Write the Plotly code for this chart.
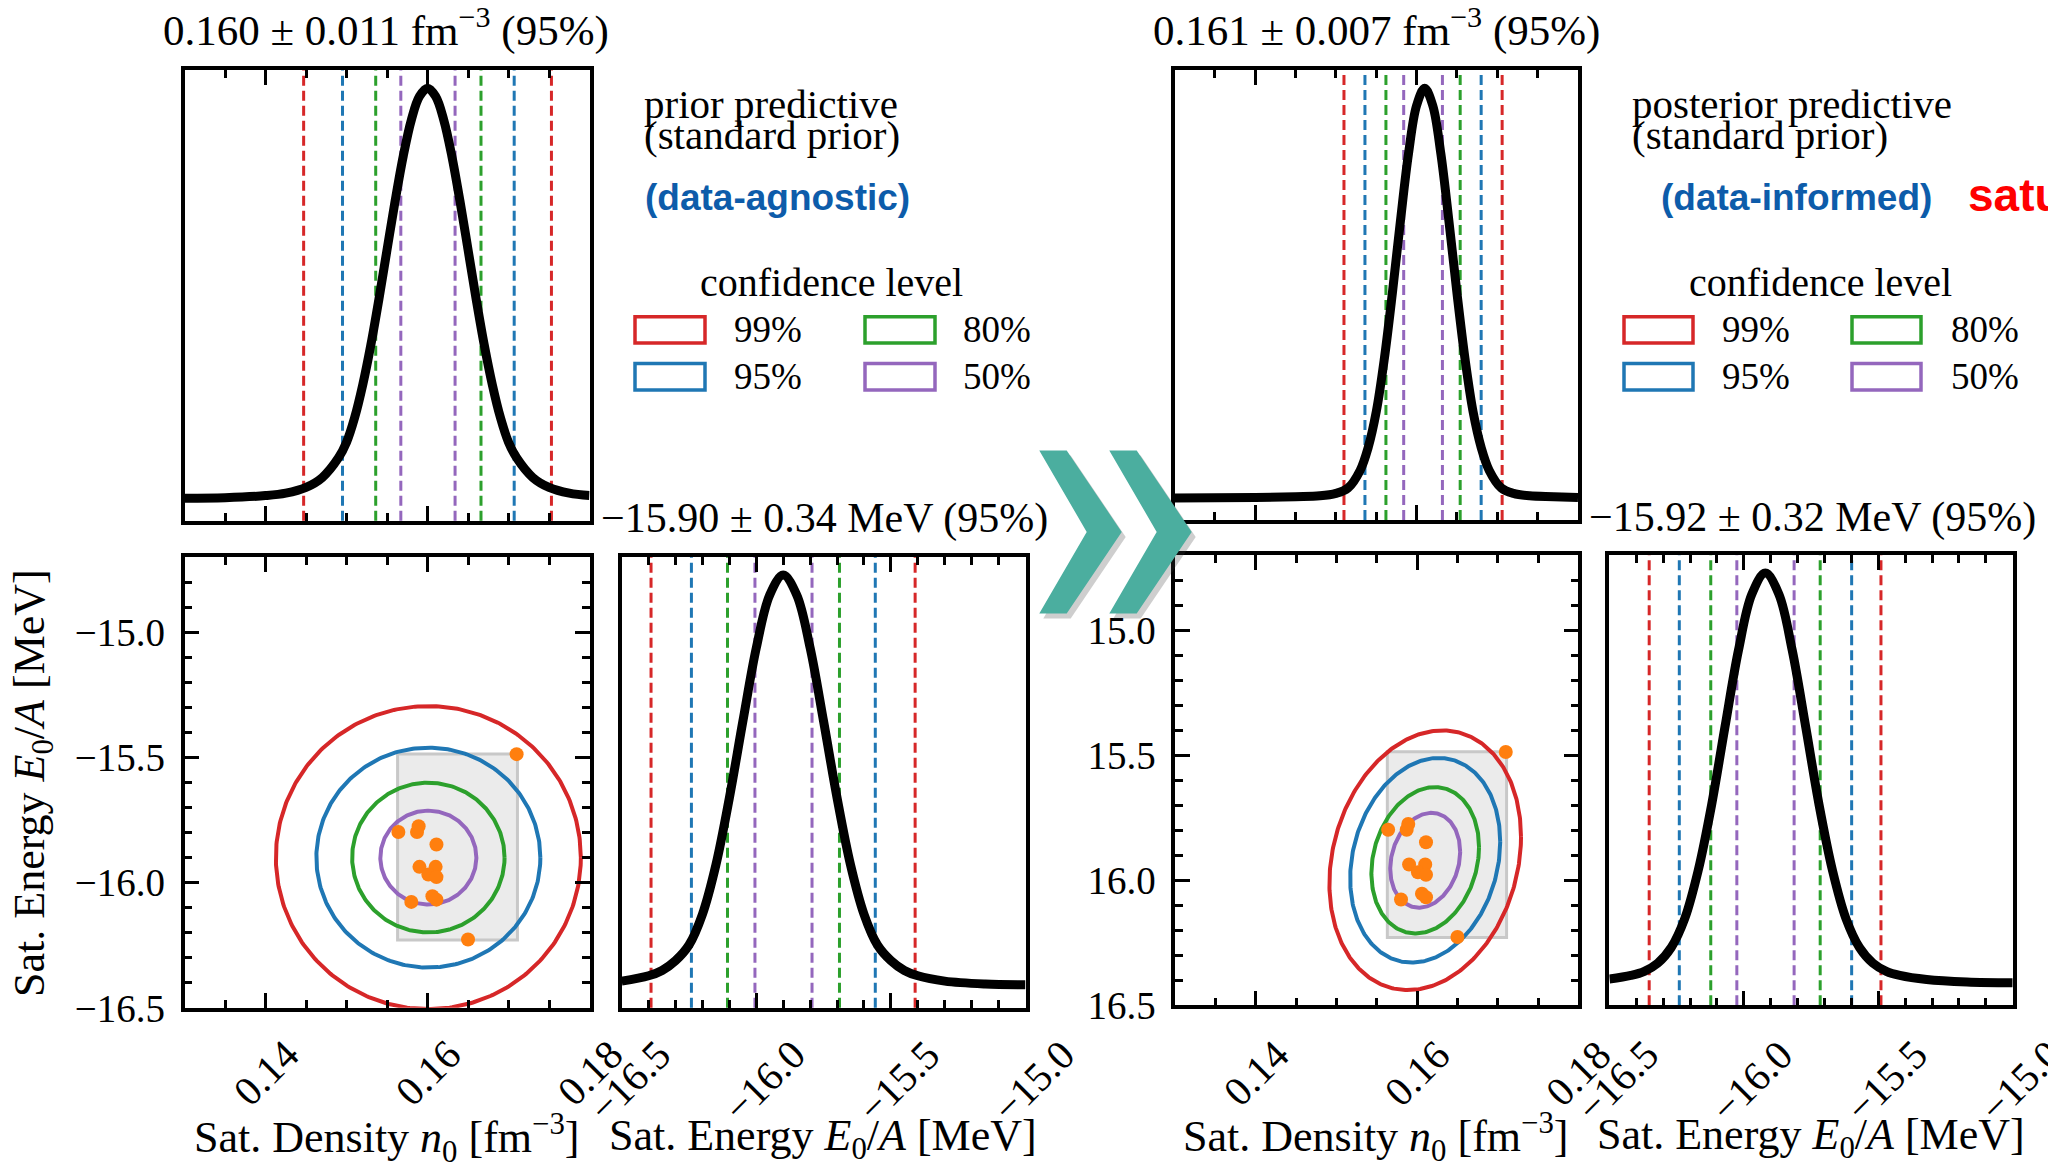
import numpy as np
import plotly.graph_objects as go

# ---------------- data ----------------
levels = ["99%", "95%", "80%", "50%"]
level_colors = ["#d62728", "#1f77b4", "#2ca02c", "#9467bd"]

# prior predictive, saturation density n0 (relative density)
prior_n0_x = [0.130, 0.135, 0.140, 0.1425, 0.145, 0.147, 0.149, 0.150, 0.151, 0.152, 0.153, 0.154,
              0.155, 0.156, 0.157, 0.158, 0.159, 0.160, 0.161, 0.162, 0.163, 0.164, 0.165, 0.166,
              0.167, 0.168, 0.169, 0.170, 0.171, 0.173, 0.175, 0.1775, 0.180]
prior_n0_pdf = [0.0015, 0.003, 0.008, 0.014, 0.028, 0.052, 0.100, 0.138, 0.198, 0.278, 0.375, 0.487,
                0.607, 0.726, 0.835, 0.923, 0.980, 1.000, 0.980, 0.923, 0.835, 0.726, 0.607, 0.487,
                0.375, 0.278, 0.198, 0.138, 0.100, 0.052, 0.028, 0.014, 0.008]
prior_n0_bounds = [(0.1447, 0.1753), (0.1495, 0.1707), (0.1536, 0.1666), (0.1567, 0.1634)]

# prior predictive, saturation energy E0/A
prior_E_x = [-16.50, -16.40, -16.35, -16.30, -16.25, -16.20, -16.15, -16.10, -16.05, -16.00, -15.95,
             -15.90, -15.85, -15.80, -15.75, -15.70, -15.65, -15.60, -15.55, -15.50, -15.45, -15.40,
             -15.30, -15.15, -15.00]
prior_E_pdf = [0.012, 0.025, 0.038, 0.062, 0.100, 0.175, 0.295, 0.458, 0.644, 0.823, 0.952, 1.000,
               0.952, 0.823, 0.644, 0.458, 0.295, 0.175, 0.100, 0.062, 0.038, 0.025, 0.012, 0.005, 0.003]
prior_E_bounds = [(-16.391, -15.410), (-16.241, -15.558), (-16.107, -15.691), (-16.005, -15.793)]

# posterior predictive, n0
post_n0_x = [0.130, 0.140, 0.145, 0.148, 0.150, 0.1515, 0.153, 0.154, 0.155, 0.156, 0.157, 0.158,
             0.159, 0.160, 0.161, 0.162, 0.163, 0.164, 0.165, 0.166, 0.167, 0.168, 0.169, 0.1705,
             0.172, 0.174, 0.177, 0.180]
post_n0_pdf = [0.001, 0.002, 0.004, 0.006, 0.012, 0.025, 0.068, 0.124, 0.211, 0.340, 0.501, 0.677,
               0.841, 0.958, 1.000, 0.958, 0.841, 0.677, 0.501, 0.340, 0.211, 0.124, 0.068, 0.025,
               0.012, 0.006, 0.004, 0.002]
post_n0_bounds = [(0.1510, 0.1706), (0.1536, 0.1680), (0.1562, 0.1654), (0.1584, 0.1632)]

# posterior predictive, E0/A
post_E_x = [-16.50, -16.42, -16.37, -16.32, -16.27, -16.22, -16.17, -16.12, -16.07, -16.02, -15.97,
            -15.92, -15.87, -15.82, -15.77, -15.72, -15.67, -15.62, -15.57, -15.52, -15.47, -15.42,
            -15.32, -15.17, -15.00]
post_E_pdf = [0.011, 0.020, 0.030, 0.050, 0.088, 0.158, 0.275, 0.435, 0.626, 0.812, 0.949, 1.000,
              0.949, 0.812, 0.626, 0.435, 0.275, 0.158, 0.088, 0.050, 0.030, 0.020, 0.010, 0.004, 0.002]
post_E_bounds = [(-16.352, -15.490), (-16.240, -15.599), (-16.123, -15.716), (-16.026, -15.813)]

# 2D confidence ellipses: centre, half-extent in n0, half-extent in E, correlation
prior_center = (0.1601, -15.90)
prior_half_n0 = [0.01883, 0.01383, 0.00941, 0.00593]
prior_half_E = [0.605, 0.439, 0.299, 0.1875]
prior_rho = 0.0
post_center = (0.1610, -15.92)
post_half_n0 = [0.01189, 0.00931, 0.00668, 0.00434]
post_half_E = [0.519, 0.409, 0.2925, 0.1895]
post_rho = 0.18

# empirical saturation points (orange) and their bounding box
emp_n0 = [0.1710, 0.1564, 0.1589, 0.1587, 0.1611, 0.1590, 0.1610, 0.1601, 0.1611, 0.1606, 0.1611, 0.1580, 0.1650]
emp_E = [-15.487, -15.798, -15.775, -15.798, -15.848, -15.937, -15.937, -15.968, -15.978, -16.054,
         -16.068, -16.077, -16.227]
box_n0 = (0.1563, 0.1711)
box_E = (-16.229, -15.486)

# axes ticks
n0_ticks = [0.14, 0.16, 0.18]
n0_ticktext = ["0.14", "0.16", "0.18"]
E_ticks = [-16.5, -16.0, -15.5, -15.0]
E_ticktext_left = ["\u221216.5", "\u221216.0", "\u221215.5", "\u221215.0"]
E_ticktext_right = ["16.5", "16.0", "15.5", "15.0"]

# ---------------- layout helpers ----------------
W, H = 2048, 1164
SERIF = "Liberation Serif"
SANS = "Liberation Sans"
VK = 1.0166  # vertical correction observed in the rendered page


def X(p):
    return p / W


def Y(p):
    return 1 - (p * VK) / H


fig = go.Figure()

# panel frames in pixels: (left, right, top, bottom)
frames = {
    1: (184.6, 589.5, 70.4, 522.0),     # prior n0 hist
    2: (184.6, 589.5, 558.5, 1010.5),   # prior scatter
    3: (621.7, 1025.5, 558.5, 1010.5),  # prior E hist
    4: (1174.5, 1578.0, 70.4, 521.4),   # posterior n0 hist
    5: (1175.4, 1578.3, 556.5, 1008.0), # posterior scatter
    6: (1609.4, 2012.7, 556.5, 1008.0), # posterior E hist
}

LW = 3.5
base_x = dict(showline=True, linecolor="black", linewidth=LW, mirror="ticks", showgrid=False,
              zeroline=False, ticks="inside", tickcolor="black", tickwidth=2.5, ticklen=15,
              showticklabels=False)
hist_y = dict(showline=True, linecolor="black", linewidth=LW, mirror=True, showgrid=False,
              zeroline=False, ticks="", showticklabels=False, range=[-0.053, 1.044])
minor_n0 = dict(ticks="inside", ticklen=8, tickwidth=2.5, tickcolor="black", dtick=0.005, tick0=0.13)
minor_E = dict(ticks="inside", ticklen=8, tickwidth=2.5, tickcolor="black", dtick=0.1, tick0=-16.5)

layout_axes = {}
for i, (l, r, t, b) in frames.items():
    xs = "xaxis" if i == 1 else f"xaxis{i}"
    ys = "yaxis" if i == 1 else f"yaxis{i}"
    xa = dict(base_x, domain=[X(l), X(r)], anchor=f"y{'' if i == 1 else i}")
    if i in (1, 2, 4, 5):
        xa.update(range=[0.13, 0.18], tickvals=n0_ticks, minor=minor_n0)
    else:
        xa.update(range=[-16.5, -15.0], tickvals=E_ticks, minor=minor_E)
    if i in (2, 5):
        ya = dict(showline=True, linecolor="black", linewidth=LW, mirror="ticks", showgrid=False,
                  zeroline=False, ticks="inside", tickcolor="black", tickwidth=2.5, ticklen=15,
                  range=[-16.5, -14.7], tickvals=E_ticks,
                  ticktext=E_ticktext_left if i == 2 else E_ticktext_right,
                  tickfont=dict(family=SERIF, size=39, color="black"), ticklabelstandoff=8,
                  minor=minor_E)
    else:
        ya = dict(hist_y)
    ya.update(domain=[Y(b), Y(t)], anchor=f"x{'' if i == 1 else i}")
    layout_axes[xs] = xa
    layout_axes[ys] = ya

shapes = []
annotations = []


def ann(text, x, y, size, color="black", family=SERIF, xanchor="center", yanchor="middle",
        angle=0, xref="paper", yref="paper", xshift=0):
    annotations.append(dict(text=text, x=x, y=y, xref=xref, yref=yref, showarrow=False,
                            font=dict(family=family, size=size, color=color), xanchor=xanchor,
                            yanchor=yanchor, textangle=angle, xshift=xshift))


# ---------- histograms ----------
def hist(ax, xs, pdf, bounds):
    sfx = "" if ax == 1 else str(ax)
    for (lo, hi), c in zip(bounds, level_colors):
        for v in (lo, hi):
            shapes.append(dict(type="line", xref=f"x{sfx}", yref=f"y{sfx} domain", x0=v, x1=v,
                               y0=0, y1=1, line=dict(color=c, width=3, dash="10px,5px"),
                               layer="below"))
    fig.add_trace(go.Scatter(x=xs, y=pdf, mode="lines", xaxis=f"x{sfx}", yaxis=f"y{sfx}",
                             line=dict(color="black", width=9, shape="spline", smoothing=1.0),
                             hoverinfo="skip"))


hist(1, prior_n0_x, prior_n0_pdf, prior_n0_bounds)
hist(3, prior_E_x, prior_E_pdf, prior_E_bounds)
hist(4, post_n0_x, post_n0_pdf, post_n0_bounds)
hist(6, post_E_x, post_E_pdf, post_E_bounds)

# ---------- joint panels ----------
tt = np.linspace(0, 2 * np.pi, 361)


def joint(ax, center, half_n0, half_E, rho):
    sfx = str(ax)
    shapes.append(dict(type="rect", xref=f"x{sfx}", yref=f"y{sfx}", x0=box_n0[0], x1=box_n0[1],
                       y0=box_E[0], y1=box_E[1], fillcolor="#ebebeb",
                       line=dict(color="#c8c8c8", width=3), layer="below"))
    for hx, hy, c in zip(half_n0, half_E, level_colors):
        ex = center[0] + hx * np.cos(tt)
        ey = center[1] + hy * (rho * np.cos(tt) + np.sqrt(1 - rho ** 2) * np.sin(tt))
        fig.add_trace(go.Scatter(x=ex, y=ey, mode="lines", xaxis=f"x{sfx}", yaxis=f"y{sfx}",
                                 line=dict(color=c, width=4), hoverinfo="skip"))
    fig.add_trace(go.Scatter(x=emp_n0, y=emp_E, mode="markers", xaxis=f"x{sfx}", yaxis=f"y{sfx}",
                             marker=dict(color="#ff7f0e", size=14, line=dict(width=0)),
                             hoverinfo="skip"))


joint(2, prior_center, prior_half_n0, prior_half_E, prior_rho)
joint(5, post_center, post_half_n0, post_half_E, post_rho)

# ---------- rotated x tick labels ----------
TICK_TOP = Y(1031)
for ax in (2, 5):
    for v, s in zip(n0_ticks, n0_ticktext):
        ann(s, v, TICK_TOP, 41, xref=f"x{ax}", yanchor="top", angle=-45)
for ax in (3, 6):
    for v, s in zip(E_ticks, E_ticktext_left):
        ann(s, v, TICK_TOP, 41, xref=f"x{ax}", yanchor="top", angle=-45, xshift=8)

# ---------- axis titles ----------
lab_n0 = "Sat. Density <i>n</i><sub>0</sub> [fm<sup>\u22123</sup>]"
lab_E = "Sat. Energy <i>E</i><sub>0</sub>/<i>A</i> [MeV]"
ann(lab_n0, X(386), Y(1141), 44)
ann(lab_E, X(823), Y(1141), 44)
ann(lab_n0, X(1375), Y(1140), 44)
ann(lab_E, X(1811), Y(1140), 44)
ann(lab_E, X(33), Y(785), 44, angle=-90)

# ---------- panel titles ----------
ann("0.160 \u00b1 0.011 fm<sup>\u22123</sup> (95%)", X(386), Y(28), 43)
ann("0.161 \u00b1 0.007 fm<sup>\u22123</sup> (95%)", X(1376), Y(28), 43)
ann("\u221215.90 \u00b1 0.34 MeV (95%)", X(824), Y(520), 42)
ann("\u221215.92 \u00b1 0.32 MeV (95%)", X(1812), Y(519), 42)

# ---------- side texts ----------
ann("prior predictive", X(642), Y(104), 41, xanchor="left")
ann("(standard prior)", X(642), Y(135), 41, xanchor="left")
ann("posterior predictive", X(1630), Y(104), 41, xanchor="left")
ann("(standard prior)", X(1630), Y(135), 41, xanchor="left")
ann("<b>(data-agnostic)</b>", X(777), Y(198), 37, color="#0d5caa", family=SANS)
ann("<b>(data-informed)</b>", X(1796), Y(198), 37, color="#0d5caa", family=SANS)
ann("<b>satu</b>", X(1966), Y(196), 46, color="#ff0000", family=SANS, xanchor="left")


# ---------- manual legends ----------
def legend(cx_title, rect_l1, rect_l2, rect_w, text_l1, text_l2):
    ann("confidence level", X(cx_title), Y(283), 40)
    rows = [(317.5, 344.0), (364.5, 391.0)]
    cols = [(rect_l1, text_l1), (rect_l2, text_l2)]
    order = [(0, 0), (0, 1), (1, 0), (1, 1)]  # (col,row): 99,95,80,50
    for (ci, ri), lev, c in zip(order, levels, level_colors):
        rl, tl = cols[ci]
        t, b = rows[ri]
        shapes.append(dict(type="rect", xref="paper", yref="paper", x0=X(rl), x1=X(rl + rect_w),
                           y0=Y(b), y1=Y(t), line=dict(color=c, width=3.5),
                           fillcolor="rgba(0,0,0,0)", layer="above"))
        ann(lev, X(tl), Y((t + b) / 2), 37, xanchor="left")


legend(831.5, 635, 865, 70, 732, 961)
legend(1820, 1624, 1852, 69, 1720, 1949)


# ---------- chevrons ----------
def chevron(x0, dx=0, dy=0):
    pts = [(x0, 451.7), (x0 + 27.4, 451.7), (x0 + 82.4, 533.3), (x0 + 27.4, 615.0), (x0, 615.0),
           (x0 + 47.4, 533.3)]
    return "M " + " L ".join(f"{X(px + dx):.5f},{Y(py + dy):.5f}" for px, py in pts) + " Z"


for x0 in (1039.3, 1109.3):
    shapes.append(dict(type="path", xref="paper", yref="paper", path=chevron(x0, 4, 5),
                       fillcolor="rgba(60,60,60,0.25)", line=dict(width=0), layer="above"))
for x0 in (1039.3, 1109.3):
    shapes.append(dict(type="path", xref="paper", yref="paper", path=chevron(x0),
                       fillcolor="#4bae9f", line=dict(width=0), layer="above"))

fig.update_layout(
    width=W, height=H, margin=dict(l=0, r=0, t=0, b=0), autosize=False,
    paper_bgcolor="white", plot_bgcolor="white", showlegend=False,
    font=dict(family=SERIF, size=40, color="black"),
    shapes=shapes, annotations=annotations, **layout_axes,
)

fig.write_html(
    "out.html",
    config={"displayModeBar": False},
    post_script="document.documentElement.style.margin='0';document.body.style.margin='0';"
                "document.body.style.padding='0';document.documentElement.style.overflow='hidden';",
)
